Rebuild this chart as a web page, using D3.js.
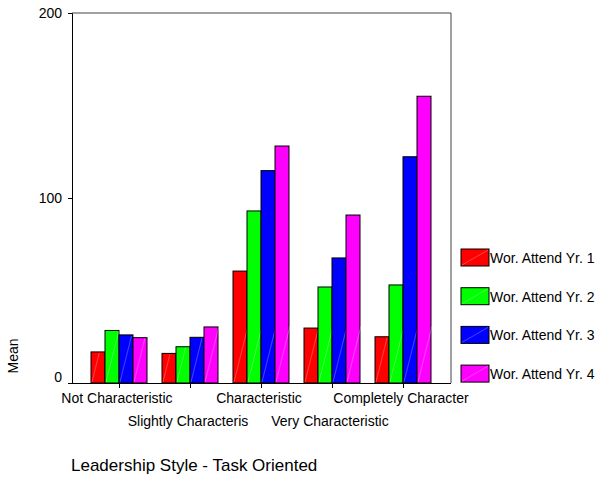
<!DOCTYPE html>
<html>
<head>
<meta charset="utf-8">
<script src="https://cdn.jsdelivr.net/npm/d3@7"></script>
<style>
  body { margin: 0; background: #fff; }
  text { font-family: "Liberation Sans", Arial, sans-serif; font-size: 14px; fill: #000; }
</style>
</head>
<body>
<div id="chart"></div>
<script>
// data
const categories = ["Not Characteristic", "Slightly Characteris", "Characteristic", "Very Characteristic", "Completely Character"];
const seriesNames = ["Wor. Attend Yr. 1", "Wor. Attend Yr. 2", "Wor. Attend Yr. 3", "Wor. Attend Yr. 4"];
const yr1 = [16.8, 16, 60.5, 29.7, 25];
const yr2 = [28.4, 19.6, 93, 51.9, 53];
const yr3 = [26, 24.7, 114.8, 67.6, 122.3];
const yr4 = [24.5, 30.3, 128.1, 90.8, 155];
const yTicks = [0, 100, 200];
const colors = ["#ff0000", "#00ff00", "#0000ff", "#ff00ff"];

const series = [yr1, yr2, yr3, yr4];

let W = 600, H = 477;
let plot = { left: 72, right: 451, top: 13, bottom: 383 };

const svg = d3.select("#chart").append("svg")
  .attr("width", W).attr("height", H);

let y = d3.scaleLinear().domain([0, 200]).range([plot.bottom, plot.top]);

// groups are centred on points with a margin on each side
let x0 = d3.scalePoint().domain(categories)
  .range([plot.left + 47, plot.right - 48]);
let x1 = d3.scaleBand().domain(d3.range(4)).range([-28, 28]).paddingInner(0);

// frame: top and right in dark grey
svg.append("path")
  .attr("d", `M${plot.left},${plot.top}H${plot.right}V${plot.bottom}`)
  .attr("fill", "none").attr("stroke", "#444").attr("stroke-width", 1);

// bars
const groups = svg.append("g").selectAll("g").data(categories).enter().append("g")
  .attr("transform", d => `translate(${x0(d)},0)`);

groups.each(function(cat, ci) {
  const g = d3.select(this);
  series.forEach((s, si) => {
    const bx = x1(si), bw = x1.bandwidth(), top = y(s[ci]);
    g.append("rect")
      .attr("x", bx).attr("y", top)
      .attr("width", bw).attr("height", plot.bottom - top)
      .attr("fill", colors[si]).attr("stroke", "#000").attr("stroke-width", 1);
    // faint diagonal highlight seen in the bars
    const rise = Math.min(plot.bottom - top - 2, bw * 4);
    g.append("line")
      .attr("x1", bx + 1).attr("y1", plot.bottom - 1)
      .attr("x2", bx + 1 + rise / 4).attr("y2", plot.bottom - 1 - rise)
      .attr("stroke", "#fff").attr("stroke-opacity", 0.35).attr("stroke-width", 0.8);
  });
});

// y axis
const yAxis = svg.append("g").attr("transform", `translate(${plot.left},0)`)
  .call(d3.axisLeft(y).tickValues(yTicks).tickSize(4).tickPadding(6).tickFormat(d3.format("d")));
yAxis.select(".domain").attr("stroke", "#000");
yAxis.selectAll("text").style("font-size", "14px")
  .attr("dy", d => d === 0 ? "-0.1em" : "0.32em");

// x axis
const xAxis = svg.append("g").attr("transform", `translate(0,${plot.bottom})`)
  .call(d3.axisBottom(x0).tickSize(5).tickFormat(""));
xAxis.select(".domain").attr("d", `M${plot.left},0.5H${plot.right}`).attr("stroke", "#000");

svg.append("g").selectAll("text").data(categories).enter().append("text")
  .attr("x", d => x0(d) - 2)
  .attr("y", (d, i) => i % 2 === 0 ? 403 : 426)
  .attr("text-anchor", "middle")
  .text(d => d);

// axis titles
svg.append("text")
  .attr("transform", "translate(18,356) rotate(-90)")
  .attr("text-anchor", "middle")
  .text("Mean");

svg.append("text")
  .attr("x", 71).attr("y", 471)
  .style("font-size", "17px")
  .text("Leadership Style - Task Oriented");

// legend
const legend = svg.append("g").selectAll("g").data(seriesNames).enter().append("g")
  .attr("transform", (d, i) => `translate(461,${249 + i * 38.7})`);
legend.append("rect")
  .attr("width", 28).attr("height", 17)
  .attr("fill", (d, i) => colors[i]).attr("stroke", "#000").attr("stroke-width", 1);
legend.append("line")
  .attr("x1", 1).attr("y1", 16).attr("x2", 27).attr("y2", 1)
  .attr("stroke", "#fff").attr("stroke-opacity", 0.35).attr("stroke-width", 0.8);
legend.append("text")
  .attr("x", 29).attr("y", 9).attr("dy", "0.35em")
  .text(d => d);
</script>
</body>
</html>
